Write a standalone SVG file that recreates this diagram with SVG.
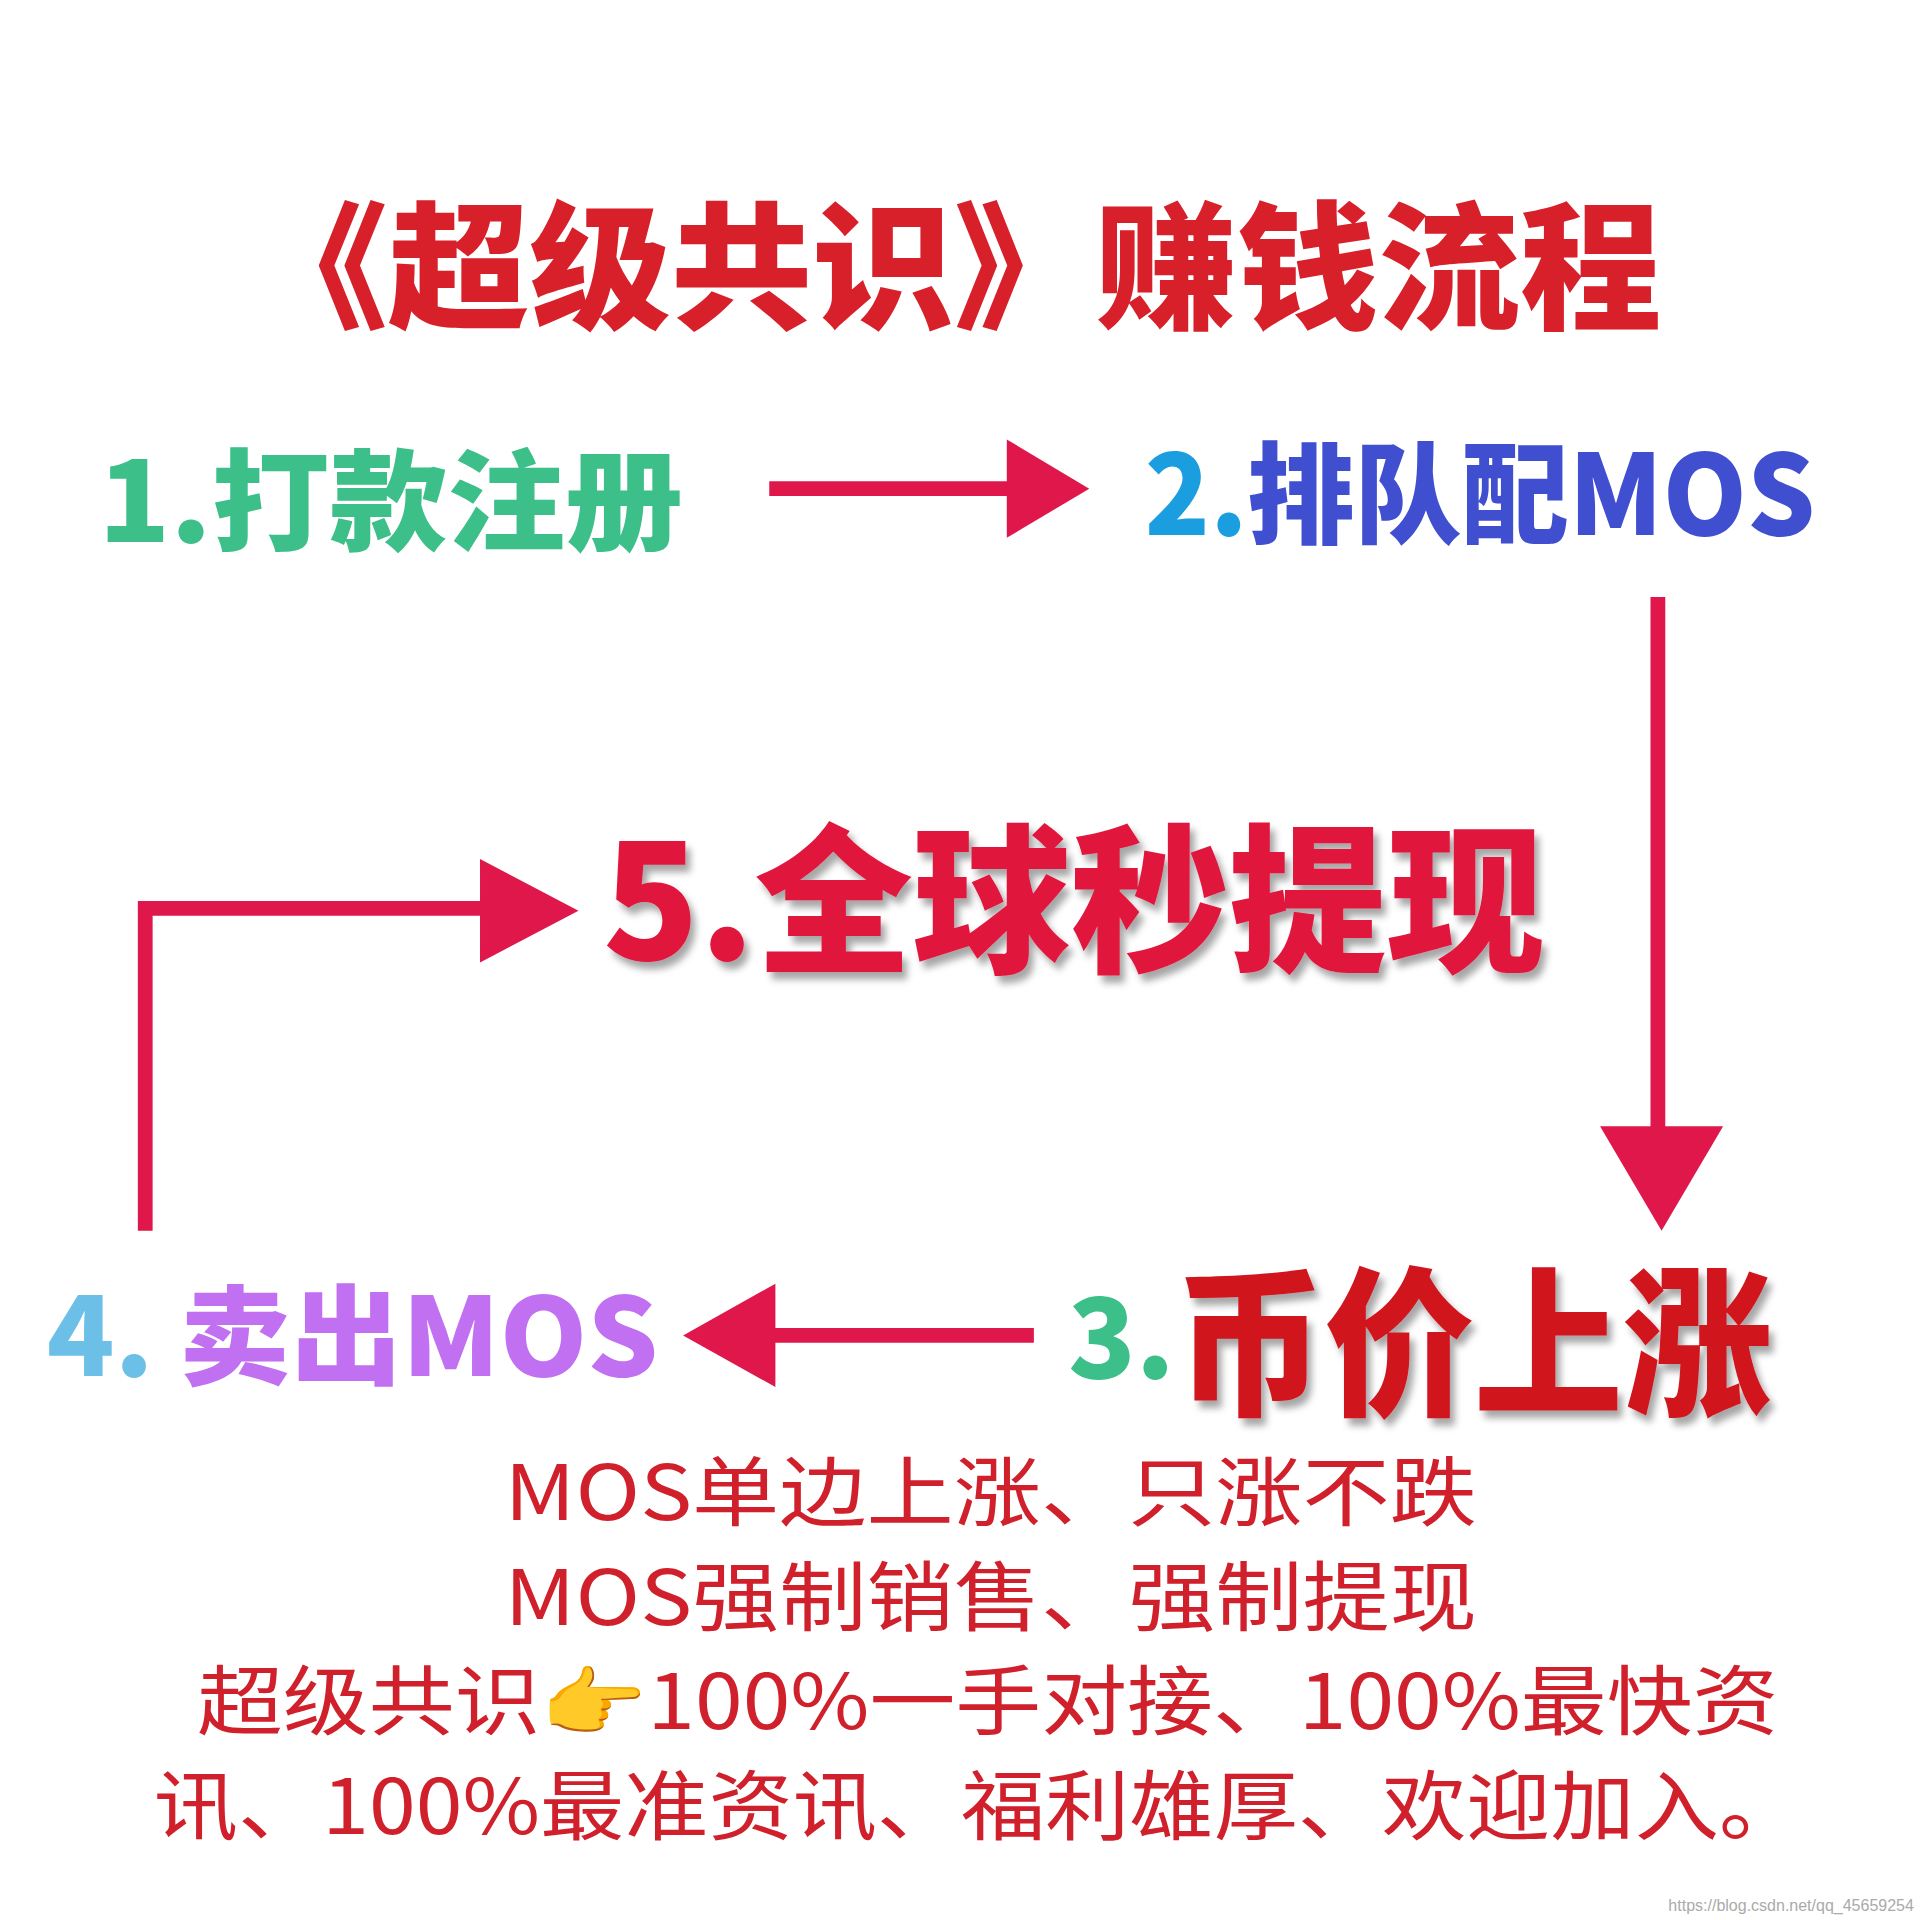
<svg xmlns="http://www.w3.org/2000/svg" width="1920" height="1920" viewBox="0 0 1920 1920">
<style>
.b{font-family:"Noto Sans CJK SC","Liberation Sans",sans-serif;font-weight:900}
.n{font-family:"Noto Sans CJK SC","Liberation Sans",sans-serif;font-weight:400;fill:#d0202c;font-size:62px}
.ln{stroke:#e0174a;stroke-width:12;fill:none}
.hd{fill:#e0174a}
</style>
<defs><filter id="sh"><feDropShadow dx="4" dy="6" stdDeviation="3" flood-color="#000" flood-opacity="0.35"/></filter></defs>
<rect width="1920" height="1920" fill="#fff"/>
<g transform="scale(1.2308)">
<g id="title"><text class="b" x="200" y="258" font-size="112" fill="#d8202a" textLength="1150" lengthAdjust="spacingAndGlyphs">《超级共识》赚钱流程</text></g>
<g id="n1"><text class="b" x="80" y="440" font-size="90" fill="#3dbf8a" textLength="475" lengthAdjust="spacingAndGlyphs">1.打款注册</text></g>
<g id="n2"><text class="b" x="930" y="435" font-size="90" textLength="545" lengthAdjust="spacingAndGlyphs"><tspan fill="#1a9ee0">2.</tspan><tspan fill="#3f4fd0">排队配MOS</tspan></text></g>
<g id="n5" filter="url(#sh)"><text class="b" x="490" y="780" font-size="130" fill="#e0173e" textLength="765" lengthAdjust="spacingAndGlyphs">5.全球秒提现</text></g>
<g id="n3"><text class="b" x="868" y="1120" font-size="90" fill="#3dbf8a">3.</text><text class="b" x="955" y="1140" font-size="130" fill="#d0141e" textLength="485" lengthAdjust="spacingAndGlyphs" filter="url(#sh)">币价上涨</text></g>
<g id="n4"><text class="b" x="38" y="1118" font-size="88" textLength="497" lengthAdjust="spacingAndGlyphs"><tspan fill="#6cc0e8">4. </tspan><tspan fill="#c070f0">卖出MOS</tspan></text></g>
<g id="connectors">
<line class="ln" x1="625" y1="397" x2="825" y2="397"/><polygon class="hd" points="818,357 885,397 818,437"/>
<line class="ln" x1="1347" y1="485" x2="1347" y2="920"/><polygon class="hd" points="1300,915 1400,915 1350,1000"/>
<polyline class="ln" points="118,1000 118,738 400,738"/><polygon class="hd" points="390,698 470,740 390,782"/>
<line class="ln" x1="840" y1="1085" x2="620" y2="1085"/><polygon class="hd" points="630,1043 555,1085 630,1127"/>
</g>
<g id="desc">
<text class="n" x="410" y="1235" textLength="790" lengthAdjust="spacingAndGlyphs">MOS单边上涨、只涨不跌</text>
<text class="n" x="410" y="1320" textLength="790" lengthAdjust="spacingAndGlyphs">MOS强制销售、强制提现</text>
<text class="n" x="160" y="1405" textLength="1285" lengthAdjust="spacingAndGlyphs">超级共识👉100%一手对接、100%最快资</text>
<text class="n" x="125" y="1490" textLength="1340" lengthAdjust="spacingAndGlyphs">讯、100%最准资讯、福利雄厚、欢迎加入。</text>
</g>
<text x="1555" y="1553" text-anchor="end" font-family="Liberation Sans,sans-serif" font-size="13" fill="#aaa">https://blog.csdn.net/qq_45659254</text>
</g>
</svg>
